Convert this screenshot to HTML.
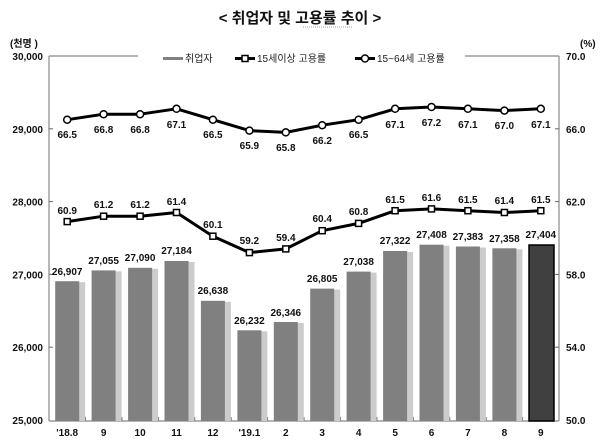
<!DOCTYPE html>
<html><head><meta charset="utf-8"><style>
html,body{margin:0;padding:0;background:#fff;}
svg{display:block;font-family:"Liberation Sans","Noto Sans CJK KR",sans-serif;}
.t{font-size:10px;font-weight:bold;fill:#111;}
.v{font-size:10px;font-weight:bold;fill:#111;text-anchor:middle;}
</style></head><body>
<svg width="600" height="442" viewBox="0 0 600 442" xmlns="http://www.w3.org/2000/svg">
<text x="300" y="23" text-anchor="middle" style="font-size:15px;font-weight:bold;font-family:'Liberation Sans','Noto Sans CJK KR',sans-serif" fill="#111">&lt; 취업자 및 고용률 추이 &gt;</text>
<line x1="303" y1="27" x2="352" y2="27" stroke="#c8a050" stroke-width="1" stroke-dasharray="1,1"/>
<text x="10" y="47" class="t">(천명 )</text>
<text x="580" y="47" class="t">(%)</text>
<!-- frame -->
<g stroke="#888" stroke-width="1.2" fill="none">
<line x1="49" y1="56" x2="138" y2="56"/><line x1="465" y1="56" x2="559" y2="56"/>
<line x1="49" y1="56" x2="49" y2="421"/><line x1="559" y1="56" x2="559" y2="421"/>
<line x1="49" y1="421" x2="559" y2="421"/>
</g>
<g stroke="#666" stroke-width="1">
<line x1="49" y1="128.8" x2="53" y2="128.8"/><line x1="49" y1="201.6" x2="53" y2="201.6"/><line x1="49" y1="274.4" x2="53" y2="274.4"/><line x1="49" y1="347.2" x2="53" y2="347.2"/>
<line x1="555" y1="128.8" x2="559" y2="128.8"/><line x1="555" y1="201.6" x2="559" y2="201.6"/><line x1="555" y1="274.4" x2="559" y2="274.4"/><line x1="555" y1="347.2" x2="559" y2="347.2"/>
<line x1="85.4" y1="417" x2="85.4" y2="421"/><line x1="121.9" y1="417" x2="121.9" y2="421"/><line x1="158.3" y1="417" x2="158.3" y2="421"/><line x1="194.7" y1="417" x2="194.7" y2="421"/><line x1="231.1" y1="417" x2="231.1" y2="421"/><line x1="267.6" y1="417" x2="267.6" y2="421"/><line x1="304" y1="417" x2="304" y2="421"/><line x1="340.4" y1="417" x2="340.4" y2="421"/><line x1="376.9" y1="417" x2="376.9" y2="421"/><line x1="413.3" y1="417" x2="413.3" y2="421"/><line x1="449.7" y1="417" x2="449.7" y2="421"/><line x1="486.1" y1="417" x2="486.1" y2="421"/><line x1="522.6" y1="417" x2="522.6" y2="421"/>
</g>
<g class="t" text-anchor="end">
<text x="43" y="60" class="t" text-anchor="end">30,000</text>
<text x="43" y="132.8" class="t" text-anchor="end">29,000</text>
<text x="43" y="205.6" class="t" text-anchor="end">28,000</text>
<text x="43" y="278.4" class="t" text-anchor="end">27,000</text>
<text x="43" y="351.2" class="t" text-anchor="end">26,000</text>
<text x="43" y="424" class="t" text-anchor="end">25,000</text>
</g>
<text x="566" y="60" class="t">70.0</text>
<text x="566" y="132.8" class="t">66.0</text>
<text x="566" y="205.6" class="t">62.0</text>
<text x="566" y="278.4" class="t">58.0</text>
<text x="566" y="351.2" class="t">54.0</text>
<text x="566" y="424" class="t">50.0</text>
<!-- legend -->
<rect x="163" y="57" width="20" height="3" fill="#808080"/>
<text x="185" y="62" style="font-size:10px" fill="#222">취업자</text>
<line x1="235" y1="58.5" x2="255" y2="58.5" stroke="#000" stroke-width="3"/>
<rect x="242" y="55.5" width="6" height="6" fill="#fff" stroke="#000" stroke-width="1.5"/>
<text x="257" y="62" style="font-size:10px" fill="#222">15세이상 고용률</text>
<line x1="355" y1="58.5" x2="375" y2="58.5" stroke="#000" stroke-width="3"/>
<circle cx="365" cy="58.5" r="3.5" fill="#fff" stroke="#000" stroke-width="1.5"/>
<text x="377" y="62" style="font-size:10px" fill="#222">15~64세 고용률</text>
<!-- bars -->
<g fill="#ccc">
<rect x="58.2" y="282.2" width="27" height="138.8"/><rect x="94.6" y="271.4" width="27" height="149.6"/><rect x="131.1" y="268.8" width="27" height="152.2"/><rect x="167.5" y="262" width="27" height="159"/><rect x="203.9" y="301.8" width="27" height="119.2"/><rect x="240.4" y="331.3" width="27" height="89.7"/><rect x="276.8" y="323" width="27" height="98"/><rect x="313.2" y="289.6" width="27" height="131.4"/><rect x="349.6" y="272.6" width="27" height="148.4"/><rect x="386.1" y="252" width="27" height="169"/><rect x="422.5" y="245.7" width="27" height="175.3"/><rect x="458.9" y="247.5" width="27" height="173.5"/><rect x="495.4" y="249.3" width="27" height="171.7"/>
</g>
<g fill="#808080">
<rect x="55.2" y="281.2" width="24" height="139.8"/><rect x="91.6" y="270.4" width="24" height="150.6"/><rect x="128.1" y="267.8" width="24" height="153.2"/><rect x="164.5" y="261" width="24" height="160"/><rect x="200.9" y="300.8" width="24" height="120.2"/><rect x="237.4" y="330.3" width="24" height="90.7"/><rect x="273.8" y="322" width="24" height="99"/><rect x="310.2" y="288.6" width="24" height="132.4"/><rect x="346.6" y="271.6" width="24" height="149.4"/><rect x="383.1" y="251" width="24" height="170"/><rect x="419.5" y="244.7" width="24" height="176.3"/><rect x="455.9" y="246.5" width="24" height="174.5"/><rect x="492.4" y="248.3" width="24" height="172.7"/>
</g>
<rect x="529" y="245" width="25" height="176" fill="#404040" stroke="#000" stroke-width="1.5"/>
<g class="v">
<text x="67.2" y="275" class="v">26,907</text><text x="103.6" y="264" class="v">27,055</text><text x="140.1" y="261" class="v">27,090</text><text x="176.5" y="254" class="v">27,184</text><text x="212.9" y="294" class="v">26,638</text><text x="249.4" y="324" class="v">26,232</text><text x="285.8" y="316" class="v">26,346</text><text x="322.2" y="282" class="v">26,805</text><text x="358.6" y="265" class="v">27,038</text><text x="395.1" y="244" class="v">27,322</text><text x="431.5" y="238" class="v">27,408</text><text x="467.9" y="240" class="v">27,383</text><text x="504.4" y="242" class="v">27,358</text><text x="540.8" y="238" class="v">27,404</text>
</g>
<!-- 15+ line -->
<polyline fill="none" stroke="#000" stroke-width="3" stroke-linejoin="round" points="67.2,221.6 103.6,216.2 140.1,216.2 176.5,212.5 212.9,236.2 249.4,252.6 285.8,248.9 322.2,230.7 358.6,223.4 395.1,210.7 431.5,208.9 467.9,210.7 504.4,212.5 540.8,210.7"/>
<g fill="#fff" stroke="#000" stroke-width="1.5">
<rect x="64.2" y="218.6" width="6" height="6"/><rect x="100.6" y="213.2" width="6" height="6"/><rect x="137.1" y="213.2" width="6" height="6"/><rect x="173.5" y="209.5" width="6" height="6"/><rect x="209.9" y="233.2" width="6" height="6"/><rect x="246.4" y="249.6" width="6" height="6"/><rect x="282.8" y="245.9" width="6" height="6"/><rect x="319.2" y="227.7" width="6" height="6"/><rect x="355.6" y="220.4" width="6" height="6"/><rect x="392.1" y="207.7" width="6" height="6"/><rect x="428.5" y="205.9" width="6" height="6"/><rect x="464.9" y="207.7" width="6" height="6"/><rect x="501.4" y="209.5" width="6" height="6"/><rect x="537.8" y="207.7" width="6" height="6"/>
</g>
<g>
<text x="67.2" y="214" class="v">60.9</text><text x="103.6" y="208" class="v">61.2</text><text x="140.1" y="208" class="v">61.2</text><text x="176.5" y="205" class="v">61.4</text><text x="212.9" y="228" class="v">60.1</text><text x="249.4" y="244" class="v">59.2</text><text x="285.8" y="241" class="v">59.4</text><text x="322.2" y="222" class="v">60.4</text><text x="358.6" y="215" class="v">60.8</text><text x="395.1" y="203" class="v">61.5</text><text x="431.5" y="201" class="v">61.6</text><text x="467.9" y="203" class="v">61.5</text><text x="504.4" y="204" class="v">61.4</text><text x="540.8" y="203" class="v">61.5</text>
</g>
<!-- 15-64 line -->
<polyline fill="none" stroke="#000" stroke-width="3" stroke-linejoin="round" points="67.2,119.7 103.6,114.2 140.1,114.2 176.5,108.8 212.9,119.7 249.4,130.6 285.8,132.4 322.2,125.2 358.6,119.7 395.1,108.8 431.5,107 467.9,108.8 504.4,110.6 540.8,108.8"/>
<g fill="#fff" stroke="#000" stroke-width="1.5">
<circle cx="67.2" cy="119.7" r="3.5"/><circle cx="103.6" cy="114.2" r="3.5"/><circle cx="140.1" cy="114.2" r="3.5"/><circle cx="176.5" cy="108.8" r="3.5"/><circle cx="212.9" cy="119.7" r="3.5"/><circle cx="249.4" cy="130.6" r="3.5"/><circle cx="285.8" cy="132.4" r="3.5"/><circle cx="322.2" cy="125.2" r="3.5"/><circle cx="358.6" cy="119.7" r="3.5"/><circle cx="395.1" cy="108.8" r="3.5"/><circle cx="431.5" cy="107" r="3.5"/><circle cx="467.9" cy="108.8" r="3.5"/><circle cx="504.4" cy="110.6" r="3.5"/><circle cx="540.8" cy="108.8" r="3.5"/>
</g>
<g>
<text x="67.2" y="138" class="v">66.5</text><text x="103.6" y="133" class="v">66.8</text><text x="140.1" y="133" class="v">66.8</text><text x="176.5" y="128" class="v">67.1</text><text x="212.9" y="138" class="v">66.5</text><text x="249.4" y="149" class="v">65.9</text><text x="285.8" y="151" class="v">65.8</text><text x="322.2" y="144" class="v">66.2</text><text x="358.6" y="138" class="v">66.5</text><text x="395.1" y="128" class="v">67.1</text><text x="431.5" y="126" class="v">67.2</text><text x="467.9" y="128" class="v">67.1</text><text x="504.4" y="129" class="v">67.0</text><text x="540.8" y="128" class="v">67.1</text>
</g>
<!-- x labels -->
<g>
<text x="67.2" y="436" class="v">'18.8</text><text x="103.6" y="436" class="v">9</text><text x="140.1" y="436" class="v">10</text><text x="176.5" y="436" class="v">11</text><text x="212.9" y="436" class="v">12</text><text x="249.4" y="436" class="v">'19.1</text><text x="285.8" y="436" class="v">2</text><text x="322.2" y="436" class="v">3</text><text x="358.6" y="436" class="v">4</text><text x="395.1" y="436" class="v">5</text><text x="431.5" y="436" class="v">6</text><text x="467.9" y="436" class="v">7</text><text x="504.4" y="436" class="v">8</text><text x="540.8" y="436" class="v">9</text>
</g>
</svg>
</body></html>
